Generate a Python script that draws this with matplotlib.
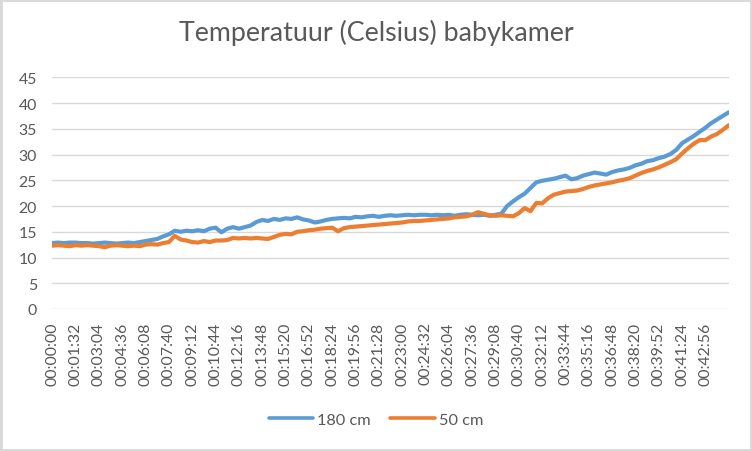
#!/usr/bin/env python

import numpy as np
import matplotlib
matplotlib.use("Agg")
import matplotlib.pyplot as plt
from matplotlib.patches import Rectangle

# one reading every 23 seconds
step_s = 23
temp_180cm = [
    12.8, 12.9, 12.8, 12.9, 12.9, 12.8, 12.8, 12.7, 12.8, 12.9,
    12.8, 12.7, 12.8, 12.9, 12.8, 13.0, 13.2, 13.4, 13.6, 14.1,
    14.5, 15.2, 15.0, 15.2, 15.1, 15.3, 15.1, 15.6, 15.8, 14.9,
    15.6, 15.9, 15.6, 15.9, 16.2, 16.9, 17.3, 17.1, 17.5, 17.3,
    17.6, 17.5, 17.8, 17.4, 17.2, 16.8, 17.0, 17.3, 17.5, 17.6,
    17.7, 17.6, 17.9, 17.8, 18.0, 18.1, 17.9, 18.1, 18.2, 18.1,
    18.2, 18.3, 18.2, 18.3, 18.3, 18.2, 18.3, 18.2, 18.3, 18.1,
    18.3, 18.4, 18.3, 18.2, 18.3, 18.1, 18.3, 18.5, 20.0, 20.9,
    21.7, 22.4, 23.5, 24.6, 24.9, 25.1, 25.3, 25.6, 25.9, 25.2,
    25.4, 25.9, 26.2, 26.5, 26.3, 26.1, 26.6, 26.9, 27.1, 27.4,
    27.9, 28.2, 28.7, 28.9, 29.3, 29.6, 30.1, 30.9, 32.2, 32.9,
    33.6, 34.4, 35.2, 36.1, 36.8, 37.5, 38.2,
]
temp_50cm = [
    12.3, 12.4, 12.3, 12.2, 12.4, 12.3, 12.4, 12.3, 12.2, 12.0,
    12.3, 12.4, 12.3, 12.2, 12.3, 12.2, 12.5, 12.6, 12.5, 12.8,
    13.0, 14.2, 13.5, 13.3, 13.0, 12.9, 13.2, 13.0, 13.3, 13.3,
    13.4, 13.8, 13.7, 13.8, 13.7, 13.8, 13.7, 13.6, 14.0, 14.4,
    14.6, 14.5, 15.0, 15.1, 15.3, 15.4, 15.6, 15.7, 15.8, 15.1,
    15.7, 15.9, 16.0, 16.1, 16.2, 16.3, 16.4, 16.5, 16.6, 16.7,
    16.8, 17.0, 17.1, 17.1, 17.2, 17.3, 17.4, 17.5, 17.6, 17.8,
    17.9, 18.0, 18.3, 18.8, 18.5, 18.2, 18.1, 18.2, 18.1, 18.0,
    18.6, 19.6, 19.0, 20.6, 20.5, 21.5, 22.2, 22.5, 22.8, 22.9,
    23.0, 23.3, 23.7, 24.0, 24.2, 24.4, 24.6, 24.9, 25.1, 25.4,
    25.9, 26.4, 26.8, 27.1, 27.5, 28.0, 28.5, 29.1, 30.2, 31.2,
    32.1, 32.8, 32.8, 33.5, 34.0, 34.8, 35.7,
]
series_names = ["180 cm", "50 cm"]
label_every_s = 92
n_labels = 29


def hms(sec):
    return f"{sec // 3600:02d}:{sec % 3600 // 60:02d}:{sec % 60:02d}"


def main():
    plt.rcParams['font.family'] = ['Lato', 'DejaVu Sans']
    text_col = '#595959'

    seconds = np.arange(len(temp_180cm)) * step_s

    fig = plt.figure(figsize=(7.52, 4.52), dpi=100)
    ax = fig.add_axes([52.3 / 752, 1 - 310 / 452, (728.7 - 52.3) / 752, (310 - 78.3) / 452])

    ax.plot(seconds, temp_180cm, color='#5B9BD5', lw=3.0, label=series_names[0],
            solid_joinstyle='round', solid_capstyle='round')
    ax.plot(seconds, temp_50cm, color='#ED7D31', lw=3.0, label=series_names[1],
            solid_joinstyle='round', solid_capstyle='round')

    ax.set_xlim(0, seconds[-1])
    ax.set_ylim(0, 45)
    ax.set_yticks(range(0, 46, 5))
    ticks = [i * label_every_s for i in range(n_labels)]
    ax.set_xticks(ticks)
    ax.set_xticklabels([hms(t) for t in ticks], rotation=90)

    ax.grid(axis='y', color='#D9D9D9', lw=1)
    ax.set_axisbelow(True)
    for s in ax.spines.values():
        s.set_visible(False)
    ax.tick_params(axis='both', length=0, labelsize=11.4, labelcolor=text_col)
    ax.tick_params(axis='y', pad=11)
    ax.tick_params(axis='x', pad=9)

    fig.text(0.5, 1 - 40.7 / 452, "Temperatuur (Celsius) babykamer", ha='center',
             va='baseline', fontsize=19.3, color=text_col)

    leg = fig.legend(loc='center', bbox_to_anchor=(0.5, 1 - 420.7 / 452), ncol=2,
                     frameon=False, fontsize=11.8, handlelength=2.7, handletextpad=0.25,
                     columnspacing=1.2)
    for t in leg.get_texts():
        t.set_color(text_col)
    for h in leg.get_lines():
        h.set_linewidth(2.6)

    fig.patches.append(Rectangle((0, 0), 1, 1, transform=fig.transFigure, fill=False,
                                 edgecolor='#D9D9D9', lw=3.5))

    fig.savefig('out.png', dpi=100)


if __name__ == "__main__":
    main()
